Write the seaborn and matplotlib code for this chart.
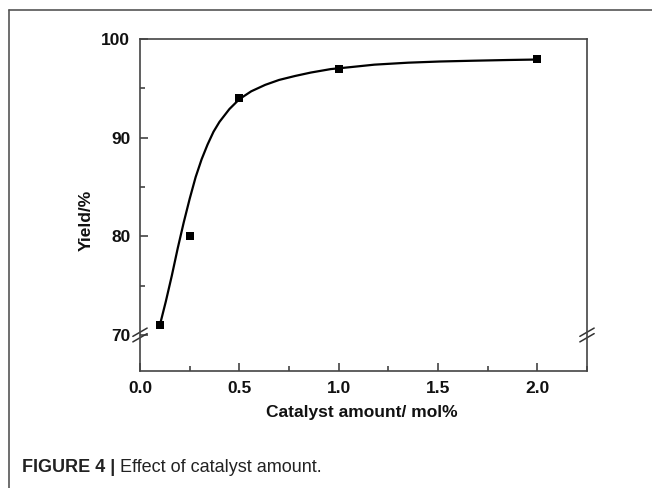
import matplotlib
matplotlib.use("Agg")
import matplotlib.pyplot as plt
from matplotlib.lines import Line2D
from matplotlib.ticker import MultipleLocator
import matplotlib.transforms as mtransforms
import seaborn as sns
import pandas as pd

# measured yields
catalyst = [0.1, 0.25, 0.5, 1.0, 2.0]
yield_pct = [71, 80, 94, 97, 98]

# fitted curve
fit_x = [0.10, 0.13, 0.16, 0.19, 0.22, 0.25, 0.28, 0.31, 0.34, 0.37, 0.40,
         0.45, 0.50, 0.56, 0.63, 0.70, 0.78, 0.86, 0.96, 1.06, 1.18, 1.35,
         1.51, 1.68, 1.85, 2.0]
fit_y = [71.0, 73.4, 76.0, 78.8, 81.4, 83.8, 86.0, 87.8, 89.3, 90.6, 91.6,
         92.9, 93.9, 94.7, 95.35, 95.85, 96.25, 96.6, 96.95, 97.15, 97.4, 97.6,
         97.72, 97.8, 97.87, 97.92]

x_ticks = [0.0, 0.5, 1.0, 1.5, 2.0]
y_ticks = [70, 80, 90, 100]

sns.set_style("ticks")
plt.rcParams["font.family"] = ["Liberation Sans", "DejaVu Sans"]

fig = plt.figure(figsize=(6.52, 4.88), dpi=100)
ax = fig.add_axes([140 / 652, 1 - 371 / 488, 447 / 652, 332 / 488])

pts = pd.DataFrame({"x": catalyst, "y": yield_pct})
fit = pd.DataFrame({"x": fit_x, "y": fit_y})

sns.lineplot(data=fit, x="x", y="y", ax=ax, color="black", linewidth=1.6,
             sort=False)
sns.scatterplot(data=pts, x="x", y="y", ax=ax, marker="s", color="black",
                s=40, edgecolor="black", linewidth=0, zorder=3)

ax.set_xlim(0, 2.25)
ax.set_ylim(66.35, 100)
ax.set_xticks(x_ticks)
ax.set_xticklabels([f"{v:.1f}" for v in x_ticks])
ax.set_yticks(y_ticks)
ax.xaxis.set_minor_locator(MultipleLocator(0.25))
ax.yaxis.set_minor_locator(MultipleLocator(5))
ax.tick_params(which="both", direction="in", top=False, right=False,
               color="#333333", width=1.1, labelcolor="#111111")
ax.tick_params(which="major", length=6, pad=7, labelsize=12.5)
ax.tick_params(which="minor", length=3.5)
for lab in ax.get_xticklabels() + ax.get_yticklabels():
    lab.set_fontweight("bold")

for sp in ax.spines.values():
    sp.set_color("#444444")
    sp.set_linewidth(1.2)

ax.set_xlabel("Catalyst amount/ mol%", fontsize=12.5, fontweight="bold",
              color="#111111")
ax.set_ylabel("Yield/%", fontsize=12.5, fontweight="bold", color="#111111")
ax.xaxis.set_label_coords(0.497, -0.103)
ax.yaxis.set_label_coords(-0.104, 0.455)

# axis break marks at y = 70 on both vertical spines
tr = mtransforms.blended_transform_factory(ax.transAxes, ax.transData)
for xa in (0.0, 1.0):
    for off in (-0.28, 0.28):
        ax.plot([xa - 0.016, xa + 0.016], [70 - 0.42 + off, 70 + 0.42 + off],
                transform=tr, color="#333333", lw=1.1, clip_on=False)

# outer frame of the figure panel
fig.add_artist(Line2D([9 / 652, 1], [1 - 10 / 488, 1 - 10 / 488],
                      color="#555555", lw=1.2))
fig.add_artist(Line2D([9 / 652, 9 / 652], [0, 1 - 10 / 488],
                      color="#555555", lw=1.2))

# caption
t1 = fig.text(22 / 652, 1 - 467 / 488, "FIGURE 4 |", fontsize=13,
              fontweight="bold", va="center", color="#222222",
              family=["Liberation Sans Narrow", "Liberation Sans"])
fig.canvas.draw()
bb = t1.get_window_extent()
fig.text((bb.x1 + 5) / 652, 1 - 467 / 488, "Effect of catalyst amount.",
         fontsize=13, va="center", color="#222222",
         family=["Liberation Sans Narrow", "Liberation Sans"])

fig.savefig("out.png", dpi=100)
